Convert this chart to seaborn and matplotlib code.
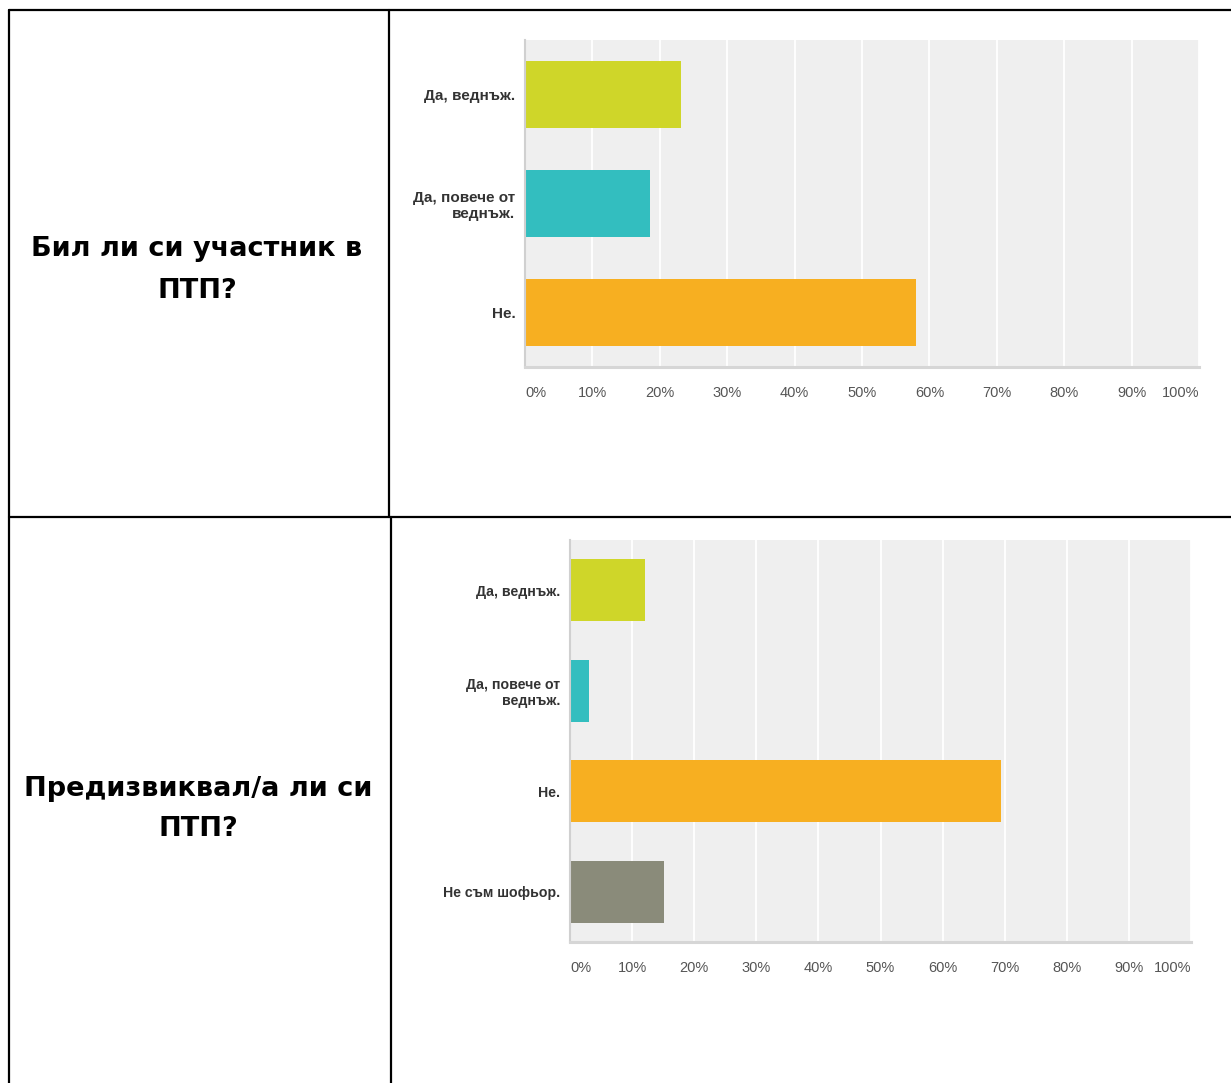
import matplotlib
matplotlib.use("Agg")
import matplotlib.pyplot as plt
from matplotlib.lines import Line2D
import seaborn as sns
import pandas as pd

# ---- data ----
question1 = "Бил ли си участник в\nПТП?"
categories1 = ["Да, веднъж.", "Да, повече от\nведнъж.", "Не."]
values1 = [23.1, 18.5, 58.0]

question2 = "Предизвиквал/а ли си\nПТП?"
categories2 = ["Да, веднъж.", "Да, повече от\nведнъж.", "Не.", "Не съм шофьор."]
values2 = [12.0, 3.0, 69.4, 15.1]

colors = ["#cfd629", "#33bebf", "#f7af21", "#8a8b7a"]
tick_values = list(range(0, 101, 10))
tick_labels = [f"{v}%" for v in tick_values]

sns.set_theme(style="white")
plt.rcParams["font.family"] = ["Liberation Sans", "DejaVu Sans"]

W, H = 1231, 1083
fig = plt.figure(figsize=(W / 100, H / 100), dpi=100)
fig.patch.set_facecolor("white")


def fx(px):
    return px / W


def fy(py):
    return 1 - py / H


def draw_chart(ax, cats, vals, label_size):
    df = pd.DataFrame({"cat": cats, "val": vals})
    pal = dict(zip(cats, colors[: len(cats)]))
    sns.barplot(data=df, x="val", y="cat", hue="cat", palette=pal, legend=False,
                orient="h", width=0.62, ax=ax, saturation=1, edgecolor="none")
    ax.set_facecolor("#efefef")
    ax.set_xlim(0, 100)
    ax.set_ylim(len(cats) - 0.5, -0.5)
    ax.set_xticks(tick_values)
    ax.set_xticklabels(tick_labels, fontsize=10.5, color="#555555")
    labs = ax.get_xticklabels()
    labs[0].set_horizontalalignment("left")
    labs[-1].set_horizontalalignment("right")
    ax.tick_params(axis="x", length=0, pad=14)
    ax.tick_params(axis="y", length=0, pad=7)
    for t in ax.get_yticklabels():
        t.set_fontweight("bold")
        t.set_fontsize(label_size)
        t.set_color("#333333")
        t.set_horizontalalignment("right")
        t.set_multialignment("right")
    ax.set_xlabel("")
    ax.set_ylabel("")
    ax.grid(axis="x", color="white", linewidth=1.3)
    ax.grid(axis="y", visible=False)
    ax.set_axisbelow(True)
    for s in ["top", "right"]:
        ax.spines[s].set_visible(False)
    ax.spines["left"].set_color("#d0d0d0")
    ax.spines["left"].set_linewidth(1.5)
    ax.spines["bottom"].set_color("#d6d6d6")
    ax.spines["bottom"].set_linewidth(2.2)


ax1 = fig.add_axes([fx(525), fy(367), fx(1199) - fx(525), fy(40) - fy(367)])
draw_chart(ax1, categories1, values1, 11)

ax2 = fig.add_axes([fx(570), fy(942), fx(1191) - fx(570), fy(540) - fy(942)])
draw_chart(ax2, categories2, values2, 10.2)

# ---- table borders ----
lw = 1.6
lines = [
    ((9, 1231), (10, 10)),
    ((9, 9), (10, 1083)),
    ((389, 389), (10, 517)),
    ((391, 391), (517, 1083)),
    ((9, 1231), (517, 517)),
]
for xs, ys in lines:
    fig.add_artist(Line2D([fx(xs[0]), fx(xs[1])], [fy(ys[0]), fy(ys[1])],
                          color="black", linewidth=lw, transform=fig.transFigure))

# ---- question texts ----
qfont = ["DejaVu Sans"]
fig.text(fx(197), fy(270), question1, ha="center", va="center", fontsize=19.5,
         fontweight="bold", family=qfont, linespacing=1.8, color="black")
fig.text(fx(198), fy(809), question2, ha="center", va="center", fontsize=19.5,
         fontweight="bold", family=qfont, linespacing=1.72, color="black")

fig.savefig("out.png", dpi=100, facecolor="white")
